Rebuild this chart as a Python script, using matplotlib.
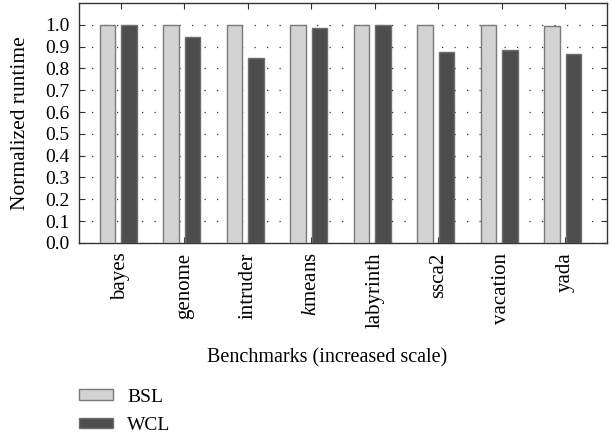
import matplotlib
matplotlib.use("Agg")
import matplotlib.pyplot as plt
import numpy as np

# 正規化実行時間 (BSL / WCL)
benchmarks = ["bayes", "genome", "intruder", "$\\it{k}$means", "labyrinth", "ssca2", "vacation", "yada"]
bsl = [1.0, 0.998, 0.998, 0.998, 1.0, 1.0, 1.0, 0.997]
wcl = [1.0, 0.942, 0.85, 0.985, 1.0, 0.875, 0.884, 0.866]
yticks = [0.0, 0.1, 0.2, 0.3, 0.4, 0.5, 0.6, 0.7, 0.8, 0.9, 1.0]

plt.rcParams["font.family"] = ["Liberation Serif", "DejaVu Serif"]
plt.rcParams["mathtext.fontset"] = "custom"
plt.rcParams["mathtext.rm"] = "Liberation Serif"
plt.rcParams["mathtext.it"] = "Liberation Serif:italic"

fig = plt.figure(figsize=(6.12, 4.36), dpi=100)
ax = fig.add_axes([0.129, 0.443, 0.863, 0.550])

x = np.arange(len(benchmarks))
w = 0.245
ax.bar(x - 0.21, bsl, w, color="#d3d3d3", edgecolor="#7a7a7a", linewidth=1, label="BSL", zorder=3)
ax.bar(x + 0.13, wcl, w, color="#4d4d4d", edgecolor="#6e6e6e", linewidth=1, label="WCL", zorder=3)

ax.set_xlim(-0.662, 7.662)
ax.set_ylim(0, 1.1)
ax.set_yticks(yticks)
ax.set_yticklabels(["%.1f" % v for v in yticks], fontsize=14)
ax.set_xticks(x)
ax.set_xticklabels(benchmarks, rotation=90, fontsize=15)
ax.tick_params(direction="in", top=True, right=True, length=4, color="#333333")
ax.tick_params(axis="y", pad=7)
ax.tick_params(axis="x", pad=7)
ax.grid(True, axis="y", linestyle=(0, (1, 9)), linewidth=0.9, color="#333333", zorder=0)
for s in ax.spines.values():
    s.set_color("#333333")
    s.set_linewidth(1.0)

ax.set_ylabel("Normalized runtime", fontsize=15.5)
ax.yaxis.set_label_coords(-0.093, 0.5)
fig.text(0.534, 1 - 358 / 436, "Benchmarks (increased scale)", fontsize=14.5, ha="center", va="center")

fig.legend(loc="upper left", bbox_to_anchor=(0.1, 1 - 371 / 436), frameon=False, fontsize=14,
           handlelength=1.75, handleheight=0.45, labelspacing=0.6, handletextpad=0.75)

fig.savefig("out.png", dpi=100)
